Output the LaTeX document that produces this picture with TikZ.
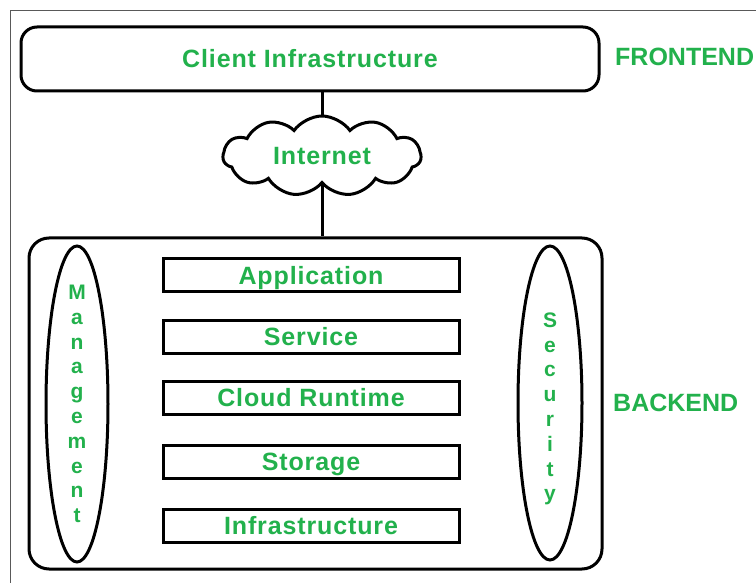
\documentclass[tikz,border=0pt]{standalone}
\usepackage{fontspec}
\setmainfont{Liberation Sans}
\usetikzlibrary{shapes.geometric,shapes.symbols,backgrounds,calc}
\definecolor{pgreen}{RGB}{34,177,76}
\tikzset{
  thick line/.style={line width=3pt, black},
  lbl/.style={text=pgreen, font=\fontsize{25}{30}\selectfont\bfseries\addfontfeature{LetterSpace=3.5}, text height=18pt, text depth=0pt},
  caps/.style={text=pgreen, font=\fontsize{25}{30}\selectfont\bfseries, inner sep=0pt},
  layerbox/.style={draw, thick line, rectangle, minimum width=296pt, minimum height=33pt, inner sep=0pt, lbl},
  sidebox/.style={draw, thick line, ellipse, inner sep=0pt},
  sidetext/.style={align=center, inner sep=0pt, text=pgreen, font=\fontsize{21}{24.8}\selectfont\bfseries},
}
\begin{document}
\begin{tikzpicture}[x=1pt,y=-1pt]
\useasboundingbox (0,0) rectangle (756,583);
\draw[gray!70!black, line width=1pt] (10,583) -- (10,11) -- (756,11);

\node[draw, thick line, rectangle, rounded corners=16pt, minimum width=578pt, minimum height=64pt, inner sep=0pt, lbl] (client) at (310,59) {Client Infrastructure};
\node[caps, anchor=west] (front) at (615,57) {FRONTEND};

\node[draw, thick line, cloud, cloud puffs=11, cloud puff arc=110, aspect=2.5, minimum width=198pt, minimum height=80pt, inner sep=0pt, fill=white, lbl] (internet) at (322,156) {Internet};

\node[draw, thick line, rectangle, rounded corners=20pt, minimum width=573pt, minimum height=331pt, inner sep=0pt] (backend) at (315.5,403.5) {};
\node[caps, anchor=west] (back) at (613,403) {BACKEND};

\node[sidebox, minimum width=62pt, minimum height=316pt] (mgmt) at (77,404) {};
\node[sidetext] (mgmttext) at (77,404) {M\\a\\n\\a\\g\\e\\m\\e\\n\\t};
\node[sidebox, minimum width=64pt, minimum height=314pt] (sec) at (550,403) {};
\node[sidetext] (sectext) at (550,409) {S\\e\\c\\u\\r\\i\\t\\y};

\node[layerbox] (app) at (311,275) {Application};
\node[layerbox] (svc) at (311,336.5) {Service};
\node[layerbox] (rt) at (311,397.5) {Cloud Runtime};
\node[layerbox] (sto) at (311,461.5) {Storage};
\node[layerbox] (infra) at (311,525.5) {Infrastructure};

\begin{pgfonlayer}{background}
\fill[white] (0,0) rectangle (756,583);
\draw[thick line] (client.south -| internet.center) -- (internet.center);
\draw[thick line] (internet.center) -- (internet.center |- backend.north);
\end{pgfonlayer}
\end{tikzpicture}
\end{document}
